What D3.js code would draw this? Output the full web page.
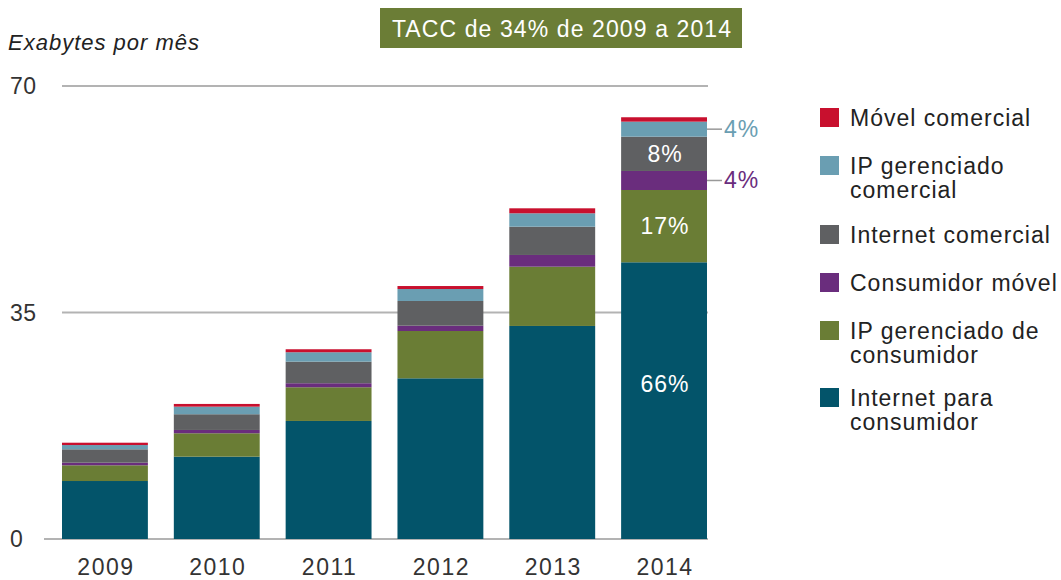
<!DOCTYPE html>
<html><head><meta charset="utf-8">
<script src="https://cdn.jsdelivr.net/npm/d3@7"></script>
<style>body{margin:0;background:#fff}svg{display:block}text{font-family:"Liberation Sans",Arial,sans-serif}</style>
</head><body>
<svg id="c" width="1061" height="580"></svg>
<script>
const years = ["2009","2010","2011","2012","2013","2014"];
const seriesNames = ["Internet para consumidor","IP gerenciado de consumidor","Consumidor móvel","Internet comercial","IP gerenciado comercial","Móvel comercial"];
const internetConsumidor = [8.96,12.72,18.24,24.83,32.92,42.76];
const ipConsumidor       = [2.43,3.62,5.21,7.31,9.16,11.17];
const consumidorMovel    = [0.40,0.51,0.62,0.82,1.81,2.94];
const internetComercial  = [2.07,2.43,3.34,3.82,4.37,5.30];
const ipComercial        = [0.66,1.17,1.45,1.85,2.07,2.32];
const movelComercial     = [0.36,0.42,0.46,0.46,0.77,0.68];
const yTicks = [0,35,70];
const shares2014 = ["66%","17%","4%","8%","4%",""];
const legendLines = [["Móvel comercial"],["IP gerenciado","comercial"],["Internet comercial"],["Consumidor móvel"],["IP gerenciado de","consumidor"],["Internet para","consumidor"]];
const title = "TACC de 34% de 2009 a 2014";
const yLabel = "Exabytes por mês";

const colors = ["#03546a","#6a7d35","#6a2d7d","#5f6062","#6a9eb2","#c8102e"];
const seriesVals = [internetConsumidor,ipConsumidor,consumidorMovel,internetComercial,ipComercial,movelComercial];
const table = years.map((y,i)=>{const o={year:y};seriesNames.forEach((s,k)=>o[s]=seriesVals[k][i]);return o;});
const stack = d3.stack().keys(seriesNames)(table);

const svg = d3.select("#c");
const x = d3.scaleBand().domain(years).range([62,707]).paddingInner(0.232).paddingOuter(0);
const y = d3.scaleLinear().domain([0,70]).range([539,86]);

// gridlines
svg.selectAll(".grid").data(yTicks).join("line")
  .attr("x1",d=>d===0?44:62).attr("x2",708)
  .attr("y1",d=>y(d)).attr("y2",d=>y(d))
  .attr("stroke","#b3b3b3").attr("stroke-width",2);
svg.selectAll(".yt").data(yTicks).join("text")
  .attr("x",10).attr("y",d=>y(d)+8).attr("font-size",23).attr("letter-spacing",0.5).attr("fill","#333").text(d=>d);

// bars
svg.selectAll("g.layer").data(stack).join("g").attr("class","layer")
  .attr("fill",(d,i)=>colors[i])
  .selectAll("rect").data(d=>d).join("rect")
  .attr("x",d=>x(d.data.year)).attr("width",x.bandwidth())
  .attr("y",d=>y(d[1])).attr("height",d=>y(d[0])-y(d[1]));

// x labels
svg.selectAll(".xt").data(years).join("text")
  .attr("x",d=>x(d)+x.bandwidth()/2+1).attr("y",575).attr("text-anchor","middle")
  .attr("font-size",23).attr("letter-spacing",1.5).attr("fill","#333").text(d=>d);

// 2014 share labels
const last = years.length-1;
const inside = [0,1,3];
inside.forEach(k=>{
  const seg = stack[k][last];
  let cy = (y(seg[0])+y(seg[1]))/2;
  if(k===0) cy -= 17;
  svg.append("text").attr("x",x(years[last])+x.bandwidth()/2+1).attr("y",cy+8)
    .attr("text-anchor","middle").attr("font-size",23).attr("letter-spacing",1).attr("fill","#fff").text(shares2014[k]);
});
[[4,"#6a9eb2"],[2,"#6a2d7d"]].forEach(([k,c])=>{
  const seg = stack[k][last];
  const cy = (y(seg[0])+y(seg[1]))/2;
  const xr = x(years[last])+x.bandwidth();
  svg.append("line").attr("x1",xr).attr("x2",xr+15).attr("y1",cy).attr("y2",cy).attr("stroke","#999").attr("stroke-width",1.5);
  svg.append("text").attr("x",xr+17).attr("y",cy+8).attr("font-size",23).attr("letter-spacing",1).attr("fill",c).text(shares2014[k]);
});

// title box
svg.append("rect").attr("x",380).attr("y",8).attr("width",362).attr("height",40).attr("fill","#6b7d36");
svg.append("text").attr("x",562).attr("y",37).attr("text-anchor","middle").attr("font-size",23).attr("letter-spacing",1.1).attr("fill","#fff").text(title);
svg.append("text").attr("x",8).attr("y",50).attr("font-size",22).attr("letter-spacing",1).attr("font-style","italic").attr("fill","#222").text(yLabel);

// legend
const legTops = [108,156,225,273,321,388];
const order = [5,4,3,2,1,0];
order.forEach((k,i)=>{
  const g = svg.append("g").attr("transform",`translate(820,${legTops[i]})`);
  g.append("rect").attr("width",19).attr("height",19).attr("fill",colors[k]);
  legendLines[i].forEach((t,j)=>g.append("text").attr("x",30).attr("y",18+j*24).attr("font-size",23).attr("letter-spacing",1).attr("fill","#222").text(t));
});
</script>
</body></html>
